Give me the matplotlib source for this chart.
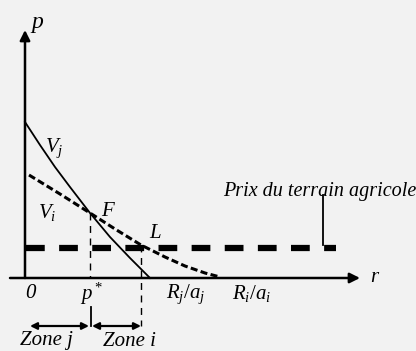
import matplotlib
matplotlib.use('Agg')
import matplotlib.pyplot as plt

# curves (r, p), origin at the axes crossing
vj_r = [0, 15, 30, 45, 65, 85, 105, 125]
vj_p = [156, 133, 111, 91, 65, 41, 20, 0]
vi_r = [4, 35, 65, 90, 116, 140, 160, 180, 195]
vi_p = [103, 84, 65, 49, 33, 21, 12, 5, 1]
p_agri = 30
r_f, p_f = 65, 65
r_l, p_l = 116, 33

plt.rcParams['font.family'] = ['Liberation Serif', 'DejaVu Serif']
plt.rcParams['mathtext.fontset'] = 'custom'
plt.rcParams['mathtext.it'] = 'Liberation Serif:italic'
plt.rcParams['mathtext.rm'] = 'Liberation Serif'

bg = '#f2f2f2'
fig = plt.figure(figsize=(4.16, 3.51), dpi=100, facecolor=bg)
ax = fig.add_axes([0, 0, 1, 1])
ax.set_facecolor(bg)
ax.set_xlim(-25, 391)
ax.set_ylim(-73, 278)
ax.axis('off')

# axes with arrows
ax.annotate('', xy=(0, 248), xytext=(0, 0),
            arrowprops=dict(arrowstyle='-|>', color='black', lw=1.8, mutation_scale=15, shrinkA=0, shrinkB=0))
ax.annotate('', xy=(335, 0), xytext=(-15, 0),
            arrowprops=dict(arrowstyle='-|>', color='black', lw=1.8, mutation_scale=15, shrinkA=0, shrinkB=0))

ax.plot(vj_r, vj_p, color='black', lw=1.3)
ax.plot(vi_r, vi_p, color='black', lw=2.2, ls=(0, (2.3, 1.1)))
ax.plot([1, 311], [p_agri, p_agri], color='black', lw=4.5, ls=(0, (3, 2.3)))

# vertical guides
ax.plot([r_f, r_f], [p_f, 0], color='black', lw=1, ls=(0, (5, 4)))
ax.plot([r_l, r_l], [p_l, -48], color='black', lw=1, ls=(0, (5, 4)))
ax.plot([66, 66], [-29, -48], color='black', lw=1.3)
ax.plot([298, 298], [p_agri + 3, 83], color='black', lw=1.3)

# zone arrows
for a, b in [(5, 64), (67, r_l)]:
    ax.annotate('', xy=(a, -48), xytext=(b, -48),
                arrowprops=dict(arrowstyle='<|-|>', color='black', lw=1.6, mutation_scale=10, shrinkA=0, shrinkB=0))

fs = 15
t = dict(style='italic', fontsize=fs, color='black')
ax.text(5, 250, r'$p$', fontsize=fs + 2)
ax.text(345, 0, 'r', va='center', **t)
ax.text(20, 126, r'$V_j$', fontsize=fs)
ax.text(13, 60, r'$V_i$', fontsize=fs)
ax.text(76, 62, 'F', **t)
ax.text(124, 40, 'L', **t)
ax.text(391, 82, 'Prix du terrain agricole', ha='right', fontsize=14.5, style='italic')
ax.text(5, -16, '0', ha='center', va='center', **t)
ax.text(67, -16, r'$p^*$', ha='center', va='center', fontsize=fs)
ax.text(161, -16, r'$R_j/a_j$', ha='center', va='center', fontsize=fs)
ax.text(227, -16, r'$R_i/a_i$', ha='center', va='center', fontsize=fs)
ax.text(21, -63, 'Zone j', ha='center', va='center', **t)
ax.text(104, -63, 'Zone i', ha='center', va='center', **t)

fig.savefig('out.png', dpi=100, facecolor=bg)
